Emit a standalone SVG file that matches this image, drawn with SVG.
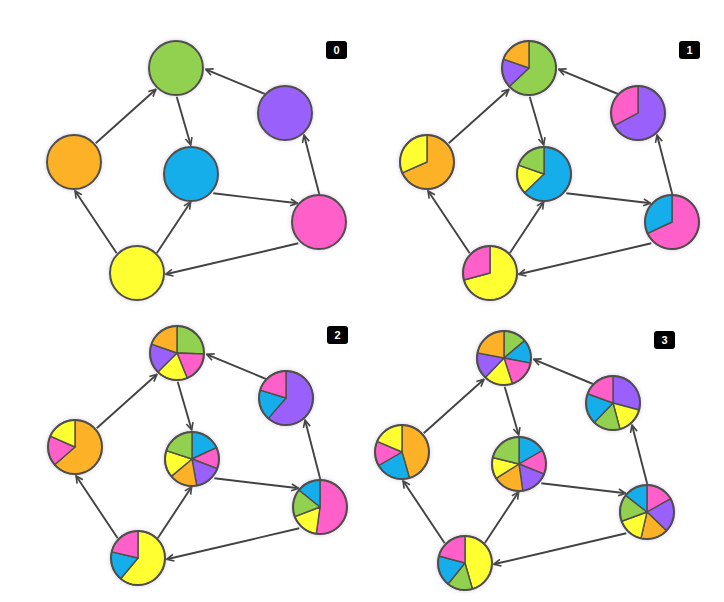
<svg xmlns="http://www.w3.org/2000/svg" width="724" height="602" viewBox="0 0 724 602">
<defs>
<style>
.edge{stroke:#424242;stroke-width:1.9;fill:none;marker-end:url(#arr)}
.node{filter:url(#halo)}
.node path,.node circle{stroke:#4f4f4a;stroke-width:1.4;stroke-linejoin:round}
.rim{fill:none;stroke-width:2 !important}
.green{fill:#92d050}.purple{fill:#9a60fc}.orange{fill:#fdb125}.blue{fill:#18aeea}.pink{fill:#ff5ec8}.yellow{fill:#ffff33}
.lbl rect{fill:#000}
.lbl text{fill:#fff;font-family:"Liberation Sans",Arial,sans-serif;font-weight:bold;font-size:11px;text-anchor:middle}
</style>
<marker id="arr" viewBox="0 0 10 10" refX="9" refY="5" markerWidth="9" markerHeight="9" markerUnits="userSpaceOnUse" orient="auto">
<path d="M1,1.2 L9,5 L1,8.8" fill="none" stroke="#424242" stroke-width="1.8"/>
</marker>
<filter id="halo" x="-30%" y="-30%" width="160%" height="160%">
<feDropShadow dx="0" dy="0" stdDeviation="2.2" flood-color="#a898c0" flood-opacity="0.5"/>
</filter>
</defs>
<rect width="724" height="602" fill="#fff"/>

<!-- Panel 0 -->
<g id="panel0">
<g id="p0-edges">
<line class="edge" x1="95.7" y1="143.3" x2="156" y2="89.3"/>
<line class="edge" x1="265" y1="94" x2="205.7" y2="69.3"/>
<line class="edge" x1="176.7" y1="96.7" x2="190.7" y2="145"/>
<line class="edge" x1="213.3" y1="193.3" x2="297.7" y2="203.3"/>
<line class="edge" x1="319.3" y1="194.3" x2="304" y2="135"/>
<line class="edge" x1="116.7" y1="253.3" x2="75" y2="190.7"/>
<line class="edge" x1="156.7" y1="253.3" x2="190.7" y2="201.7"/>
<line class="edge" x1="298.3" y1="243.3" x2="165.7" y2="274.3"/>
</g>
<g id="p0-green" class="node" transform="translate(176,68)"><circle r="27" class="green" style="stroke-width:2"/></g>
<g id="p0-purple" class="node" transform="translate(285,113)"><circle r="27" class="purple" style="stroke-width:2"/></g>
<g id="p0-orange" class="node" transform="translate(74,162)"><circle r="27" class="orange" style="stroke-width:2"/></g>
<g id="p0-blue" class="node" transform="translate(191,174)"><circle r="27" class="blue" style="stroke-width:2"/></g>
<g id="p0-pink" class="node" transform="translate(319,222)"><circle r="27" class="pink" style="stroke-width:2"/></g>
<g id="p0-yellow" class="node" transform="translate(137,273)"><circle r="27" class="yellow" style="stroke-width:2"/></g>
<g id="p0-label" class="lbl"><rect x="326" y="41" width="21" height="18" rx="3"/><text x="336.5" y="54">0</text></g>
</g>

<!-- Panel 1 -->
<g id="panel1" transform="translate(353,0)">
<g id="p1-edges">
<line class="edge" x1="95.7" y1="143.3" x2="156" y2="89.3"/>
<line class="edge" x1="265" y1="94" x2="205.7" y2="69.3"/>
<line class="edge" x1="176.7" y1="96.7" x2="190.7" y2="145"/>
<line class="edge" x1="213.3" y1="193.3" x2="297.7" y2="203.3"/>
<line class="edge" x1="319.3" y1="194.3" x2="304" y2="135"/>
<line class="edge" x1="116.7" y1="253.3" x2="75" y2="190.7"/>
<line class="edge" x1="156.7" y1="253.3" x2="190.7" y2="201.7"/>
<line class="edge" x1="298.3" y1="243.3" x2="165.7" y2="274.3"/>
</g>
<g id="p1-green" class="node" transform="translate(176,68)">
<path class="green" d="M0,0L0,-27A27,27 0 1 1 -19.75,18.41Z"/>
<path class="purple" d="M0,0L-19.75,18.41A27,27 0 0 1 -25.53,-8.79Z"/>
<path class="orange" d="M0,0L-25.53,-8.79A27,27 0 0 1 0,-27Z"/>
<circle r="27" class="rim"/></g>
<g id="p1-purple" class="node" transform="translate(285,113)">
<path class="purple" d="M0,0L0,-27A27,27 0 1 1 -23.84,12.68Z"/>
<path class="pink" d="M0,0L-23.84,12.68A27,27 0 0 1 0,-27Z"/>
<circle r="27" class="rim"/></g>
<g id="p1-orange" class="node" transform="translate(74,162)">
<path class="orange" d="M0,0L0,-27A27,27 0 1 1 -24.66,10.98Z"/>
<path class="yellow" d="M0,0L-24.66,10.98A27,27 0 0 1 0,-27Z"/>
<circle r="27" class="rim"/></g>
<g id="p1-blue" class="node" transform="translate(191,174)">
<path class="blue" d="M0,0L0,-27A27,27 0 1 1 -19.42,18.76Z"/>
<path class="yellow" d="M0,0L-19.42,18.76A27,27 0 0 1 -25.53,-8.79Z"/>
<path class="green" d="M0,0L-25.53,-8.79A27,27 0 0 1 0,-27Z"/>
<circle r="27" class="rim"/></g>
<g id="p1-pink" class="node" transform="translate(319,222)">
<path class="pink" d="M0,0L0,-27A27,27 0 1 1 -24.47,11.41Z"/>
<path class="blue" d="M0,0L-24.47,11.41A27,27 0 0 1 0,-27Z"/>
<circle r="27" class="rim"/></g>
<g id="p1-yellow" class="node" transform="translate(137,273)">
<path class="yellow" d="M0,0L0,-27A27,27 0 1 1 -26.08,6.99Z"/>
<path class="pink" d="M0,0L-26.08,6.99A27,27 0 0 1 0,-27Z"/>
<circle r="27" class="rim"/></g>
<g id="p1-label" class="lbl"><rect x="326" y="41" width="21" height="18" rx="3"/><text x="336.5" y="54">1</text></g>
</g>

<!-- Panel 2 -->
<g id="panel2" transform="translate(1,285)">
<g id="p2-edges">
<line class="edge" x1="95.7" y1="143.3" x2="156" y2="89.3"/>
<line class="edge" x1="265" y1="94" x2="205.7" y2="69.3"/>
<line class="edge" x1="176.7" y1="96.7" x2="190.7" y2="145"/>
<line class="edge" x1="213.3" y1="193.3" x2="297.7" y2="203.3"/>
<line class="edge" x1="319.3" y1="194.3" x2="304" y2="135"/>
<line class="edge" x1="116.7" y1="253.3" x2="75" y2="190.7"/>
<line class="edge" x1="156.7" y1="253.3" x2="190.7" y2="201.7"/>
<line class="edge" x1="298.3" y1="243.3" x2="165.7" y2="274.3"/>
</g>
<g id="p2-green" class="node" transform="translate(176,68)">
<path class="green" d="M0,0L0,-27A27,27 0 0 1 26.98,0.94Z"/>
<path class="pink" d="M0,0L26.98,0.94A27,27 0 0 1 10.11,25.03Z"/>
<path class="yellow" d="M0,0L10.11,25.03A27,27 0 0 1 -19.09,19.09Z"/>
<path class="purple" d="M0,0L-19.09,19.09A27,27 0 0 1 -25.53,-8.79Z"/>
<path class="orange" d="M0,0L-25.53,-8.79A27,27 0 0 1 0,-27Z"/>
<circle r="27" class="rim"/></g>
<g id="p2-purple" class="node" transform="translate(285,113)">
<path class="purple" d="M0,0L0,-27A27,27 0 1 1 -17.71,20.38Z"/>
<path class="blue" d="M0,0L-17.71,20.38A27,27 0 0 1 -25.82,-7.89Z"/>
<path class="pink" d="M0,0L-25.82,-7.89A27,27 0 0 1 0,-27Z"/>
<circle r="27" class="rim"/></g>
<g id="p2-orange" class="node" transform="translate(74,162)">
<path class="orange" d="M0,0L0,-27A27,27 0 1 1 -20.38,17.71Z"/>
<path class="pink" d="M0,0L-20.38,17.71A27,27 0 0 1 -24.66,-10.98Z"/>
<path class="yellow" d="M0,0L-24.66,-10.98A27,27 0 0 1 0,-27Z"/>
<circle r="27" class="rim"/></g>
<g id="p2-blue" class="node" transform="translate(191,174)">
<path class="blue" d="M0,0L0,-27A27,27 0 0 1 24.47,-11.41Z"/>
<path class="pink" d="M0,0L24.47,-11.41A27,27 0 0 1 25.21,9.68Z"/>
<path class="purple" d="M0,0L25.21,9.68A27,27 0 0 1 4.69,26.59Z"/>
<path class="orange" d="M0,0L4.69,26.59A27,27 0 0 1 -20.68,17.36Z"/>
<path class="yellow" d="M0,0L-20.68,17.36A27,27 0 0 1 -25.68,-8.34Z"/>
<path class="green" d="M0,0L-25.68,-8.34A27,27 0 0 1 0,-27Z"/>
<circle r="27" class="rim"/></g>
<g id="p2-pink" class="node" transform="translate(319,222)">
<path class="pink" d="M0,0L0,-27A27,27 0 1 1 -3.76,26.74Z"/>
<path class="yellow" d="M0,0L-3.76,26.74A27,27 0 0 1 -25.21,9.68Z"/>
<path class="green" d="M0,0L-25.21,9.68A27,27 0 0 1 -20.98,-16.99Z"/>
<path class="blue" d="M0,0L-20.98,-16.99A27,27 0 0 1 0,-27Z"/>
<circle r="27" class="rim"/></g>
<g id="p2-yellow" class="node" transform="translate(137,273)">
<path class="yellow" d="M0,0L0,-27A27,27 0 1 1 -17.36,20.68Z"/>
<path class="blue" d="M0,0L-17.36,20.68A27,27 0 0 1 -26.31,-6.07Z"/>
<path class="pink" d="M0,0L-26.31,-6.07A27,27 0 0 1 0,-27Z"/>
<circle r="27" class="rim"/></g>
<g id="p2-label" class="lbl"><rect x="326" y="41" width="21" height="18" rx="3"/><text x="336.5" y="54">2</text></g>
</g>

<!-- Panel 3 -->
<g id="panel3" transform="translate(328,290)">
<g id="p3-edges">
<line class="edge" x1="95.7" y1="143.3" x2="156" y2="89.3"/>
<line class="edge" x1="265" y1="94" x2="205.7" y2="69.3"/>
<line class="edge" x1="176.7" y1="96.7" x2="190.7" y2="145"/>
<line class="edge" x1="213.3" y1="193.3" x2="297.7" y2="203.3"/>
<line class="edge" x1="319.3" y1="194.3" x2="304" y2="135"/>
<line class="edge" x1="116.7" y1="253.3" x2="75" y2="190.7"/>
<line class="edge" x1="156.7" y1="253.3" x2="190.7" y2="201.7"/>
<line class="edge" x1="298.3" y1="243.3" x2="165.7" y2="274.3"/>
</g>
<g id="p3-green" class="node" transform="translate(176,68)">
<path class="green" d="M0,0L0,-27A27,27 0 0 1 20.68,-17.36Z"/>
<path class="blue" d="M0,0L20.68,-17.36A27,27 0 0 1 26.5,5.15Z"/>
<path class="pink" d="M0,0L26.5,5.15A27,27 0 0 1 8.34,25.68Z"/>
<path class="yellow" d="M0,0L8.34,25.68A27,27 0 0 1 -18.76,19.42Z"/>
<path class="purple" d="M0,0L-18.76,19.42A27,27 0 0 1 -26.5,-5.15Z"/>
<path class="orange" d="M0,0L-26.5,-5.15A27,27 0 0 1 0,-27Z"/>
<circle r="27" class="rim"/></g>
<g id="p3-purple" class="node" transform="translate(285,113)">
<path class="purple" d="M0,0L0,-27A27,27 0 0 1 26.08,6.99Z"/>
<path class="yellow" d="M0,0L26.08,6.99A27,27 0 0 1 6.99,26.08Z"/>
<path class="green" d="M0,0L6.99,26.08A27,27 0 0 1 -18.76,19.42Z"/>
<path class="blue" d="M0,0L-18.76,19.42A27,27 0 0 1 -25.37,-9.23Z"/>
<path class="pink" d="M0,0L-25.37,-9.23A27,27 0 0 1 0,-27Z"/>
<circle r="27" class="rim"/></g>
<g id="p3-orange" class="node" transform="translate(74,162)">
<path class="orange" d="M0,0L0,-27A27,27 0 0 1 7.44,25.95Z"/>
<path class="blue" d="M0,0L7.44,25.95A27,27 0 0 1 -23.38,13.5Z"/>
<path class="pink" d="M0,0L-23.38,13.5A27,27 0 0 1 -24.85,-10.55Z"/>
<path class="yellow" d="M0,0L-24.85,-10.55A27,27 0 0 1 0,-27Z"/>
<circle r="27" class="rim"/></g>
<g id="p3-blue" class="node" transform="translate(191,174)">
<path class="blue" d="M0,0L0,-27A27,27 0 0 1 23.38,-13.5Z"/>
<path class="pink" d="M0,0L23.38,-13.5A27,27 0 0 1 25.03,10.11Z"/>
<path class="purple" d="M0,0L25.03,10.11A27,27 0 0 1 3.76,26.74Z"/>
<path class="orange" d="M0,0L3.76,26.74A27,27 0 0 1 -22.9,14.31Z"/>
<path class="yellow" d="M0,0L-22.9,14.31A27,27 0 0 1 -26.2,-6.53Z"/>
<path class="green" d="M0,0L-26.2,-6.53A27,27 0 0 1 0,-27Z"/>
<circle r="27" class="rim"/></g>
<g id="p3-pink" class="node" transform="translate(319,222)">
<path class="pink" d="M0,0L0,-27A27,27 0 0 1 23.61,-13.09Z"/>
<path class="purple" d="M0,0L23.61,-13.09A27,27 0 0 1 19.42,18.76Z"/>
<path class="orange" d="M0,0L19.42,18.76A27,27 0 0 1 -6.07,26.31Z"/>
<path class="yellow" d="M0,0L-6.07,26.31A27,27 0 0 1 -25.37,9.23Z"/>
<path class="green" d="M0,0L-25.37,9.23A27,27 0 0 1 -21.28,-16.62Z"/>
<path class="blue" d="M0,0L-21.28,-16.62A27,27 0 0 1 0,-27Z"/>
<circle r="27" class="rim"/></g>
<g id="p3-yellow" class="node" transform="translate(137,273)">
<path class="yellow" d="M0,0L0,-27A27,27 0 0 1 7.44,25.95Z"/>
<path class="green" d="M0,0L7.44,25.95A27,27 0 0 1 -16.99,20.98Z"/>
<path class="blue" d="M0,0L-16.99,20.98A27,27 0 0 1 -26.08,-6.99Z"/>
<path class="pink" d="M0,0L-26.08,-6.99A27,27 0 0 1 0,-27Z"/>
<circle r="27" class="rim"/></g>
<g id="p3-label" class="lbl"><rect x="326" y="41" width="21" height="18" rx="3"/><text x="336.5" y="54">3</text></g>
</g>
</svg>
